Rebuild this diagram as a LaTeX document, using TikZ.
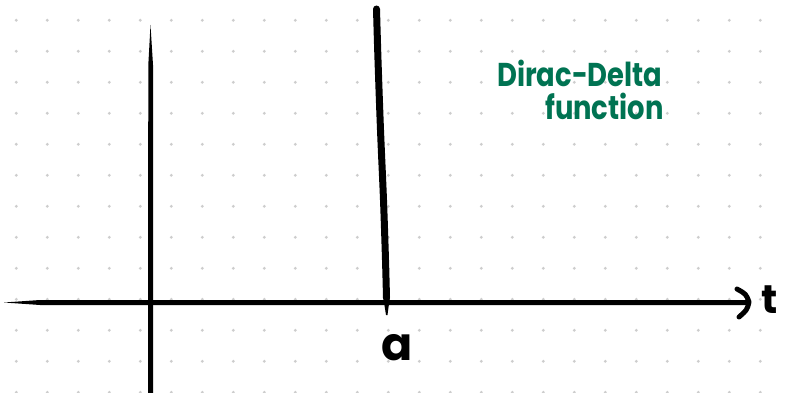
\documentclass[tikz,border=0pt]{standalone}
\usepackage{fontspec}
\newfontfamily\handfont{Poppins}
\definecolor{dotc}{RGB}{205,205,205}
\definecolor{inkgreen}{RGB}{0,115,82}
\begin{document}
\begin{tikzpicture}[x=1pt,y=-1pt,
  ink/.style={line width=5pt,line cap=round,line join=round,black},
  spike/.style={line width=7pt,line cap=round,black},
  lbl/.style={inner sep=0pt,font=\handfont\bfseries},
  greenlbl/.style={inner sep=0pt,text=inkgreen,font=\handfont\bfseries\fontsize{33}{36}\selectfont}]
\useasboundingbox (0,0) rectangle (787,393);
\fill[white] (0,0) rectangle (787,393);
% dot grid
\foreach \i in {0,...,24}{
  \foreach \j in {0,...,12}{
    \fill[dotc] ({16.3+31*\i},{20.3+31*\j}) circle (1.6);
  }
}
% coordinates
\coordinate (xstart) at (4,302.5);
\coordinate (xend) at (748,302.5);
\coordinate (ytop) at (150.5,25);
\coordinate (ybot) at (150.5,393);
% horizontal axis (tapered left end)
\fill[black] (xstart) -- (40,300) -- (xend |- 0,300) -- (xend |- 0,305) -- (40,305) -- cycle;
% arrow head
\draw[ink] (737,289) .. controls (746,294) .. (749,302) .. controls (747,310) .. (739,317);
% vertical axis (tapered top)
\fill[black] (ytop) -- (153,65) -- (153,393) -- (148,393) -- (148.3,65) -- cycle;
% delta spike
\draw[spike] plot[smooth] coordinates {(376.5,9) (378,60) (380.5,130) (383.5,200) (385.5,260) (386.5,298)};
\fill[black] (383,296) -- (390,296) -- (387.5,315) -- (386,315) -- cycle;
% labels
\node[lbl,font=\handfont\bfseries\fontsize{40}{44}\selectfont,anchor=base] (tlabel) at (770,313) {t};
\node[lbl,font=\handfont\bfseries\fontsize{46}{50}\selectfont,anchor=base] (alabel) at (397,360) {a};
\node[greenlbl,anchor=base west] (dd1) at (497,87) {\scalebox{0.83}[1]{Dirac-Delta}};
\node[greenlbl,anchor=base west] (dd2) at (545,120) {\scalebox{0.83}[1]{function}};
\end{tikzpicture}
\end{document}
